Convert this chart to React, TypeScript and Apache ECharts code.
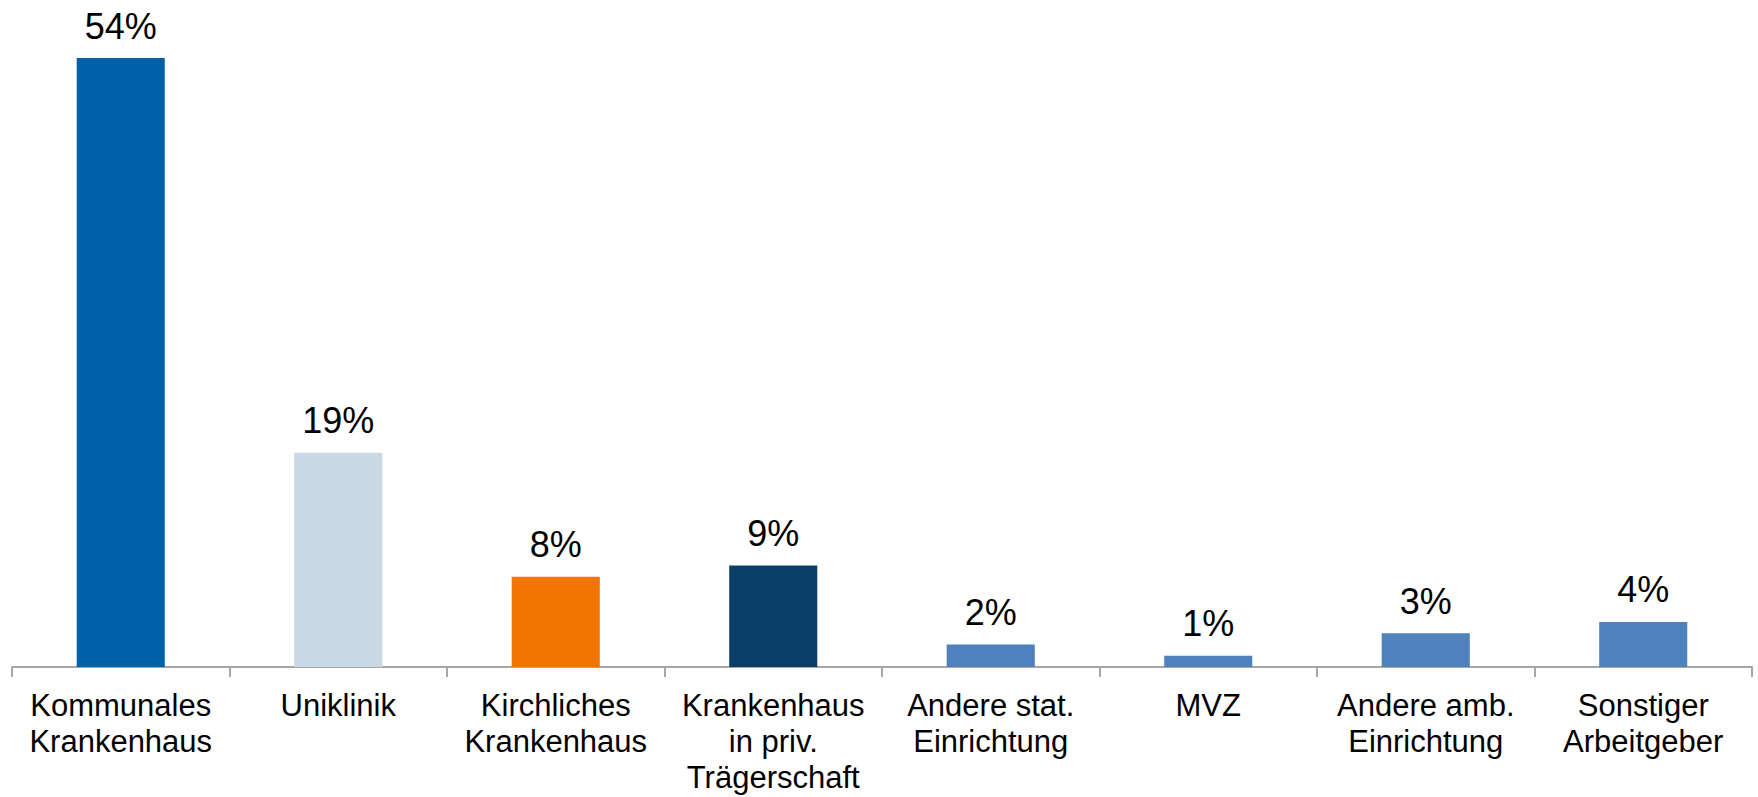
import React, { useEffect, useRef } from "react";
import * as echarts from "echarts";

const categories = [
  "Kommunales\nKrankenhaus",
  "Uniklinik",
  "Kirchliches\nKrankenhaus",
  "Krankenhaus\nin priv.\nTrägerschaft",
  "Andere stat.\nEinrichtung",
  "MVZ",
  "Andere amb.\nEinrichtung",
  "Sonstiger\nArbeitgeber",
];
const values = [54, 19, 8, 9, 2, 1, 3, 4];
const colors = [
  "#0061A8",
  "#CAD8E4",
  "#F07502",
  "#0B3E67",
  "#4F81BD",
  "#4F81BD",
  "#4F81BD",
  "#4F81BD",
];

export default function App() {
  const ref = useRef<HTMLDivElement>(null);
  useEffect(() => {
    if (!ref.current) return;
    const chart = echarts.init(ref.current, null, { renderer: "svg" });
    chart.setOption({
      animation: false,
      grid: { left: 12, right: 6, top: 58, bottom: 130 },
      xAxis: {
        type: "category",
        data: categories,
        boundaryGap: true,
        axisLine: { show: true, lineStyle: { color: "#A6A6A6", width: 2 } },
        axisTick: { show: true, length: 10, lineStyle: { color: "#A6A6A6", width: 2 } },
        axisLabel: {
          interval: 0,
          margin: 20,
          color: "#000",
          fontFamily: "'Liberation Sans', Arial, sans-serif",
          fontSize: 31,
          lineHeight: 36,
        },
      },
      yAxis: {
        type: "value",
        min: 0,
        max: 54,
        show: false,
        splitLine: { show: false },
      },
      series: [
        {
          type: "bar",
          barWidth: "40.5%",
          data: values.map((v, i) => ({ value: v, itemStyle: { color: colors[i] } })),
          label: {
            show: true,
            position: "top",
            distance: 14,
            formatter: "{c}%",
            color: "#000",
            fontFamily: "'Liberation Sans', Arial, sans-serif",
            fontSize: 36,
          },
        },
      ],
    });
    return () => chart.dispose();
  }, []);
  return (
    <div
      ref={ref}
      style={{ position: "absolute", left: 0, top: 0, width: 1758, height: 797 }}
    />
  );
}
